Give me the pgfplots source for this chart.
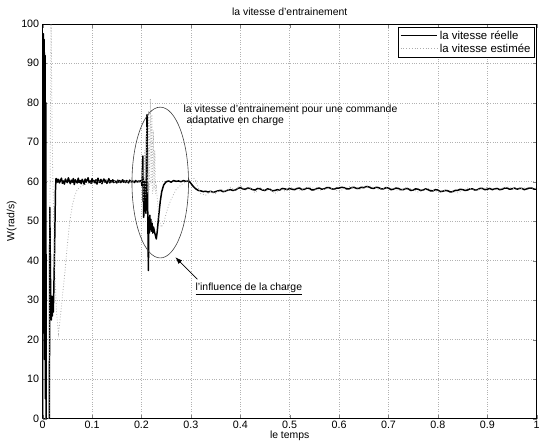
\documentclass[border=0pt]{standalone}
\usepackage{fontspec}
\setmainfont{Liberation Sans}
\usepackage{pgfplots}
\pgfplotsset{compat=1.18}
\usetikzlibrary{arrows.meta}
\begin{document}
\begin{tikzpicture}
\begin{axis}[
  width=498pt, height=398pt, scale only axis,
  xmin=0, xmax=1, ymin=0, ymax=100,
  xtick={0,0.1,...,1}, ytick={0,10,...,100},
  /pgf/number format/assume math mode=true,
  /pgf/number format/fixed,
  tick label style={font=\fontsize{10.8}{12}\selectfont},
  xticklabel style={yshift=1pt},
  tick align=inside,
  major tick length=4pt,
  grid=major,
  grid style={dotted, gray!60, line width=0.5pt},
  axis line style={black, line width=0.6pt},
  title={la vitesse d'entrainement},
  title style={font=\fontsize{10.5}{12}\selectfont, yshift=-1pt},
  xlabel={le temps},
  xlabel style={font=\fontsize{10.5}{12}\selectfont, yshift=5pt},
  ylabel={W(rad/s)},
  ylabel style={font=\fontsize{10.5}{12}\selectfont, yshift=-2pt},
  legend style={at={(rel axis cs:0.996,0.993)}, anchor=north east, draw=black, line width=0.6pt,
    font=\fontsize{11.5}{13}\selectfont, inner sep=2pt, row sep=-1pt},
  legend cell align=left,
]
\addplot[black, line width=1.5pt, line join=round,
  legend image code/.code={\draw[black, line width=0.6pt] (0pt,0pt) -- (37pt,0pt);}]
coordinates {
(0,0) (0.0005,55) (0.0015,97.5) (0.0025,30) (0.0032,96) (0.004,15) (0.0048,92) (0.0056,5) (0.0064,80) (0.0072,-2) (0.009,-5) (0.0135,-5) (0.0145,53.5) (0.0155,40) (0.0165,28) (0.0175,25) (0.0185,31) (0.0195,26) (0.0205,30) (0.0215,27) (0.0225,32) (0.024,42) (0.026,58) (0.027,60.8)
(0.028,60.8) (0.030,59.9) (0.032,60.6) (0.034,59.7) (0.036,60.3) (0.038,60.9) (0.040,59.6) (0.042,60.2) (0.044,59.4) (0.046,60.7)
(0.048,60.1) (0.050,59.8) (0.052,61.0) (0.054,60.2) (0.056,59.5) (0.058,60.4) (0.060,59.9) (0.062,60.8) (0.064,59.3) (0.066,60.5)
(0.068,60.0) (0.070,59.7) (0.072,60.9) (0.074,59.8) (0.076,60.3) (0.078,59.5) (0.080,60.6) (0.082,60.1) (0.084,59.4) (0.086,60.7)
(0.088,59.9) (0.090,60.4) (0.092,61.0) (0.094,59.8) (0.096,60.2) (0.098,59.6) (0.100,60.8) (0.102,59.9) (0.104,60.3) (0.106,59.7)
(0.108,60.5) (0.110,59.4) (0.112,60.9) (0.114,60.0) (0.116,59.8) (0.118,60.6) (0.120,59.5) (0.122,60.2) (0.124,60.7) (0.126,59.9)
(0.128,60.4) (0.130,59.6) (0.132,60.1) (0.134,60.8) (0.136,59.7) (0.138,60.3) (0.140,59.9) (0.142,60.5) (0.144,59.8) (0.146,60.2)
(0.148,60.0) (0.150,59.7) (0.152,60.4) (0.154,59.9) (0.156,60.3) (0.158,59.8) (0.160,60.1) (0.162,60.5) (0.164,59.9) (0.166,60.2)
(0.168,59.8) (0.170,60.3) (0.172,60.0) (0.174,59.7) (0.176,60.4) (0.178,60.1) (0.180,59.9) (0.182,60.2) (0.184,60.0) (0.186,59.8)
(0.188,60.3) (0.190,60.1) (0.192,59.9) (0.194,60.2) (0.196,60.0) (0.198,60.3) (0.200,60.1)
(0.2010,59.0) (0.2020,63.0) (0.2028,66.5) (0.2034,55.0) (0.2040,61.0) (0.2046,51.0) (0.2052,58.0) (0.2058,52.5) (0.2064,60.0) (0.2070,54.0)
(0.2080,57.0) (0.2090,52.0) (0.2100,65.0) (0.2112,77.0) (0.2125,55.0) (0.2140,37.5) (0.2150,51.0) (0.2160,47.0) (0.2170,51.5) (0.2180,48.0)
(0.2190,50.5) (0.2200,47.5) (0.2215,49.5) (0.2230,47.0) (0.2245,48.5) (0.2260,47.5) (0.2280,46.5) (0.2300,45.5) (0.2320,47.5) (0.2350,51.5)
(0.2380,55.0) (0.2410,57.5) (0.2450,59.2) (0.2500,60.0) (0.2550,60.2) (0.2600,59.9) (0.2650,60.3) (0.2700,60.1) (0.2750,60.2) (0.2800,60.0)
(0.2850,60.3) (0.2900,60.1) (0.2960,60.2) (0.3000,59.6) (0.3050,58.8) (0.3100,58.2) (0.3150,57.8) (0.3200,57.7) (0.3250,57.5) (0.3300,57.6)
(0.3350,57.4) (0.3400,57.6) (0.3450,57.3) (0.3500,57.5)
(0.355,57.7) (0.36,57.8) (0.365,57.5) (0.37,57.6) (0.375,57.9) (0.38,58.0) (0.385,57.8) (0.39,57.9) (0.395,58.3) (0.40,58.5) (0.405,58.2) (0.41,58.1) (0.415,58.4) (0.42,58.3) (0.425,58.0) (0.43,57.9) (0.435,58.3) (0.44,58.2) (0.445,57.9) (0.45,57.8)
(0.455,58.2) (0.46,58.1) (0.465,57.7) (0.47,57.8) (0.475,58.0) (0.48,57.9) (0.485,58.3) (0.49,58.2) (0.495,58.0) (0.50,58.3) (0.505,58.1) (0.51,58.0) (0.515,58.3) (0.52,58.4) (0.525,58.0) (0.53,58.1) (0.535,58.4) (0.54,58.3) (0.545,57.9) (0.55,58.0)
(0.555,58.3) (0.56,58.4) (0.565,58.1) (0.57,58.2) (0.575,58.5) (0.58,58.5) (0.585,58.2) (0.59,58.1) (0.595,58.4) (0.60,58.4) (0.605,58.6) (0.61,58.5) (0.615,58.2) (0.62,58.2) (0.625,58.5) (0.63,58.6) (0.635,58.3) (0.64,58.3) (0.645,58.6) (0.65,58.5)
(0.655,58.8) (0.66,58.7) (0.665,58.4) (0.67,58.3) (0.675,58.6) (0.68,58.5) (0.685,58.2) (0.69,58.2) (0.695,58.5) (0.70,58.4) (0.705,58.0) (0.71,58.1) (0.715,58.4) (0.72,58.3) (0.725,58.0) (0.73,58.0) (0.735,58.3) (0.74,58.2) (0.745,57.8) (0.75,57.9)
(0.755,58.2) (0.76,58.1) (0.765,57.8) (0.77,57.9) (0.775,58.2) (0.78,58.0) (0.785,57.7) (0.79,57.7) (0.795,58.0) (0.80,57.9) (0.805,57.5) (0.81,57.6) (0.815,57.8) (0.82,57.7) (0.825,57.4) (0.83,57.5) (0.835,57.8) (0.84,57.8) (0.845,58.1) (0.85,58.0)
(0.855,57.8) (0.86,57.9) (0.865,58.2) (0.87,58.2) (0.875,57.9) (0.88,58.0) (0.885,58.3) (0.89,58.3) (0.895,58.0) (0.90,58.1) (0.905,58.3) (0.91,58.0) (0.915,58.2) (0.92,58.3) (0.925,58.0) (0.93,58.1) (0.935,58.4) (0.94,58.4) (0.945,58.1) (0.95,58.2)
(0.955,58.4) (0.96,58.1) (0.965,58.3) (0.97,58.3) (0.975,58.0) (0.98,58.2) (0.985,58.4) (0.99,58.4) (0.995,58.1) (1.00,58.2)
};
\addlegendentry{la vitesse réelle}
\addplot[gray!65, dotted, line width=0.8pt,
  legend image code/.code={\draw[gray!65, dotted, line width=0.8pt] (0pt,0pt) -- (37pt,0pt);}]
coordinates {
(0,0) (0.013,0) (0.0155,70) (0.017,100) (0.020,65) (0.024,40) (0.028,27) (0.032,21.5) (0.036,26) (0.040,31)
(0.045,37) (0.050,44) (0.055,50) (0.060,54) (0.065,56.5) (0.070,58) (0.080,59) (0.090,59.5) (0.100,59.8)
(0.11,60.2) (0.12,59.7) (0.13,60.3) (0.14,59.9) (0.15,60.2) (0.16,59.8) (0.17,60.1) (0.18,60.0) (0.19,59.9) (0.20,60.1)
(0.2025,63) (0.2045,55) (0.2065,68) (0.2085,56) (0.2105,74) (0.2125,57) (0.2145,78) (0.2160,58) (0.2180,81) (0.2195,59)
(0.2210,77) (0.2225,57) (0.2240,73) (0.2255,58) (0.2270,68) (0.2285,57) (0.2300,58.5) (0.2330,54) (0.2360,50.5) (0.2400,48.5)
(0.2450,49.5) (0.2500,52) (0.2550,54) (0.2600,55.5) (0.2650,56.8) (0.2700,58) (0.2800,59.2) (0.2900,60) (0.3000,60.8) (0.3050,61)
(0.3100,60.3) (0.3150,58.5) (0.3200,57) (0.3300,56.6) (0.34,57.5) (0.35,57.0) (0.36,58.2) (0.37,57.4) (0.38,58.6) (0.39,57.8)
(0.40,59.0) (0.41,57.9) (0.42,58.4) (0.43,57.2) (0.44,58.5) (0.45,57.6) (0.46,58.3) (0.47,57.0) (0.48,58.2) (0.49,57.7)
(0.50,58.6) (0.52,57.9) (0.54,58.7) (0.56,57.8) (0.58,58.4) (0.60,57.6) (0.62,58.8) (0.64,58.0) (0.66,59.0) (0.68,58.1)
(0.70,58.6) (0.72,57.8) (0.74,58.5) (0.76,57.4) (0.78,58.3) (0.80,57.5) (0.82,58.0) (0.84,57.2) (0.86,58.4) (0.88,57.9)
(0.90,58.6) (0.92,58.0) (0.94,58.7) (0.96,58.1) (0.98,58.5) (1.00,58.3)
};
\addlegendentry{la vitesse estimée}
\draw[black!75, line width=0.6pt] (axis cs:0.238,59.8) ellipse [x radius=28.5pt, y radius=76pt];
\draw[-{Latex[length=7pt,width=5pt]}, line width=0.7pt] (axis cs:0.313,35.3) -- (axis cs:0.2685,40.9);
\node[anchor=west, inner sep=0pt, font=\fontsize{10.5}{12}\selectfont] at (axis cs:0.285,78.2) {la vitesse d'entrainement pour une commande};
\node[anchor=west, inner sep=0pt, font=\fontsize{10.5}{12}\selectfont] at (axis cs:0.291,75.5) {adaptative en charge};
\node[anchor=west, inner sep=0pt, font=\fontsize{10.5}{12}\selectfont] at (axis cs:0.309,32.9) {\underline{l'influence de la charge}};
\coordinate (tl) at (rel axis cs:0,1);
\coordinate (br) at (rel axis cs:1,0);
\end{axis}
\path ([shift={(-43pt,24pt)}]tl) ([shift={(2pt,-28pt)}]br);
\end{tikzpicture}
\end{document}
